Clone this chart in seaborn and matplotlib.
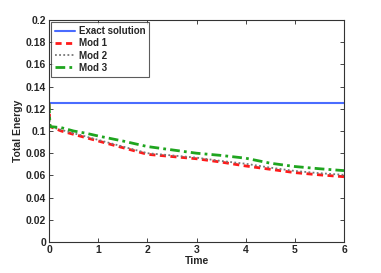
import pandas as pd
import matplotlib
matplotlib.use("Agg")
import matplotlib.pyplot as plt
import seaborn as sns

# values
t = [0, 0.02, 0.25, 0.5, 0.75, 1, 1.5, 2, 2.5, 3, 3.5, 4, 4.5, 5, 5.5, 6]
exact = [0.125] * len(t)
mod1 = [0.125, 0.104, 0.100, 0.097, 0.094, 0.091, 0.085, 0.079, 0.077, 0.075,
        0.072, 0.0685, 0.0655, 0.0625, 0.0605, 0.0588]
mod2 = [0.125, 0.104, 0.101, 0.098, 0.095, 0.092, 0.086, 0.080, 0.078, 0.076,
        0.073, 0.0705, 0.067, 0.064, 0.062, 0.0605]
mod3 = [0.125, 0.104, 0.103, 0.100, 0.098, 0.0955, 0.091, 0.086, 0.083, 0.080,
        0.078, 0.0755, 0.071, 0.068, 0.066, 0.0643]

series = ["Exact solution", "Mod 1", "Mod 2", "Mod 3"]
colors = ["#4a6cff", "#ff1a1a", "#777777", "#1fa51f"]
styles = ["-", (0, (2.2, 1.6)), (0, (1, 1.3)), (0, (3.5, 1.5, 1, 1.5))]
widths = [1.5, 2.0, 1.3, 2.0]

df = pd.concat([
    pd.DataFrame({"Time": t, "Energy": v, "series": s})
    for s, v in zip(series, [exact, mod1, mod2, mod3])
])

sns.set_style("ticks")
plt.rcParams["font.family"] = ["Liberation Sans", "DejaVu Sans"]
plt.rcParams["font.weight"] = "bold"
plt.rcParams["xtick.direction"] = "in"
plt.rcParams["ytick.direction"] = "in"

fig = plt.figure(figsize=(3.81, 2.73), dpi=100)
ax = fig.add_axes([49 / 381, 31 / 273, 295 / 381, 222 / 273])

for s, c, ls, lw in zip(series, colors, styles, widths):
    sns.lineplot(data=df[df["series"] == s], x="Time", y="Energy", ax=ax,
                 color=c, linestyle=ls, linewidth=lw, label=s)

ax.set_xlim(0, 6)
ax.set_ylim(0, 0.2)
ax.set_xticks(range(0, 7))
ax.set_yticks([0, 0.02, 0.04, 0.06, 0.08, 0.1, 0.12, 0.14, 0.16, 0.18, 0.2])
ax.set_yticklabels(["0", "0.02", "0.04", "0.06", "0.08", "0.1", "0.12",
                    "0.14", "0.16", "0.18", "0.2"])
ax.tick_params(labelsize=7.5, top=True, right=True, length=3, width=0.6, pad=2)
for sp in ax.spines.values():
    sp.set_linewidth(0.8)
    sp.set_color("#333333")
ax.set_xlabel("Time", fontsize=7.5, fontweight="bold", labelpad=1)
ax.set_ylabel("Total Energy", fontsize=7.5, fontweight="bold", labelpad=2)

leg = ax.legend(loc="upper left", fontsize=7, frameon=True, fancybox=False,
                handlelength=2.0, borderpad=0.4, labelspacing=0.22,
                handletextpad=0.4, borderaxespad=0.25)
leg.get_frame().set_edgecolor("#333333")
leg.get_frame().set_linewidth(0.8)

fig.savefig("out.png", dpi=100)
